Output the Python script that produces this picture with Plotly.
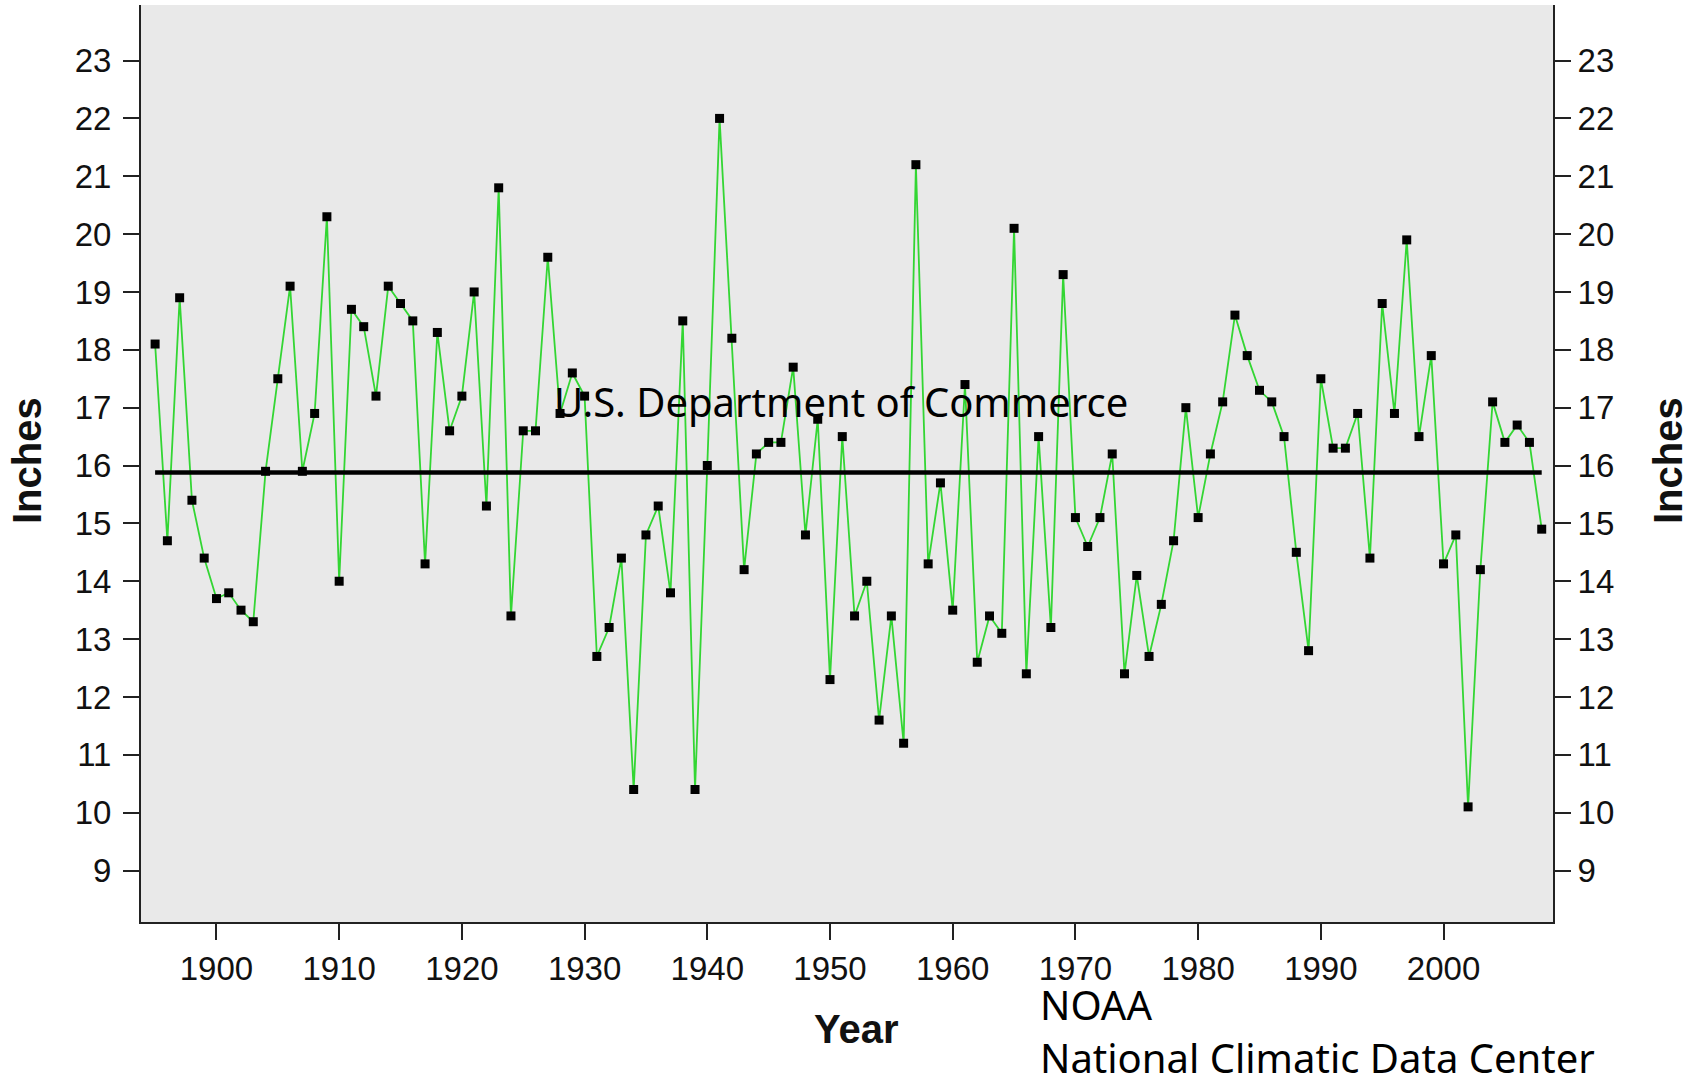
import plotly.graph_objects as go

years = list(range(1895, 2009))
precip = [
    18.1, 14.7, 18.9, 15.4, 14.4,            # 1895-1899
    13.7, 13.8, 13.5, 13.3, 15.9, 17.5, 19.1, 15.9, 16.9, 20.3,  # 1900s
    14.0, 18.7, 18.4, 17.2, 19.1, 18.8, 18.5, 14.3, 18.3, 16.6,  # 1910s
    17.2, 19.0, 15.3, 20.8, 13.4, 16.6, 16.6, 19.6, 16.9, 17.6,  # 1920s
    17.2, 12.7, 13.2, 14.4, 10.4, 14.8, 15.3, 13.8, 18.5, 10.4,  # 1930s
    16.0, 22.0, 18.2, 14.2, 16.2, 16.4, 16.4, 17.7, 14.8, 16.8,  # 1940s
    12.3, 16.5, 13.4, 14.0, 11.6, 13.4, 11.2, 21.2, 14.3, 15.7,  # 1950s
    13.5, 17.4, 12.6, 13.4, 13.1, 20.1, 12.4, 16.5, 13.2, 19.3,  # 1960s
    15.1, 14.6, 15.1, 16.2, 12.4, 14.1, 12.7, 13.6, 14.7, 17.0,  # 1970s
    15.1, 16.2, 17.1, 18.6, 17.9, 17.3, 17.1, 16.5, 14.5, 12.8,  # 1980s
    17.5, 16.3, 16.3, 16.9, 14.4, 18.8, 16.9, 19.9, 16.5, 17.9,  # 1990s
    14.3, 14.8, 10.1, 14.2, 17.1, 16.4, 16.7, 16.4, 14.9,        # 2000-2008
]
mean_value = 15.88
mean_years = [1895, 2008]

x_ticks = list(range(1900, 2001, 10))
y_ticks = list(range(9, 24))

GREEN = "#33d633"
tick_font = dict(family="Liberation Sans, Arial, sans-serif", size=33, color="#111")

fig = go.Figure()
fig.add_trace(go.Scatter(
    x=years, y=precip, mode="lines+markers",
    line=dict(color=GREEN, width=1.8),
    marker=dict(symbol="square", size=9, color="black"),
    showlegend=False, hoverinfo="x+y",
))
fig.add_trace(go.Scatter(
    x=mean_years, y=[mean_value, mean_value], mode="lines",
    line=dict(color="black", width=4.5),
    showlegend=False, hoverinfo="skip",
))
# invisible trace on right axis so it renders
fig.add_trace(go.Scatter(
    x=mean_years, y=[mean_value, mean_value], mode="lines", yaxis="y2",
    line=dict(color="rgba(0,0,0,0)", width=0),
    showlegend=False, hoverinfo="skip",
))

L, R, T, B = 141, 145, 5, 165
W, H = 1698, 1087
yr = [8.11, 23.96]
axis_common = dict(
    ticks="outside", ticklen=16, tickwidth=2, tickcolor="#222",
    showline=True, linecolor="#222", linewidth=2,
    showgrid=False, zeroline=False, tickfont=tick_font,
)
fig.update_layout(
    width=W, height=H,
    margin=dict(l=L, r=R, t=T, b=B),
    paper_bgcolor="white",
    plot_bgcolor="#e9e9e9",
    xaxis=dict(
        range=[1893.85, 2008.92], tickvals=x_ticks, ticktext=[str(v) for v in x_ticks],
        ticklabelstandoff=0, **axis_common,
    ),
    yaxis=dict(
        range=yr, tickvals=y_ticks, ticktext=[str(v) for v in y_ticks],
        ticklabelstandoff=5, **axis_common,
    ),
    yaxis2=dict(
        range=yr, tickvals=y_ticks, ticktext=[str(v) for v in y_ticks],
        overlaying="y", side="right",
        ticklabelstandoff=0, **axis_common,
    ),
)

title_font = dict(family="Liberation Sans, Arial, sans-serif", size=40, color="#111")
note_font = dict(family="Noto Sans, Open Sans, sans-serif", size=40, color="black")
annos = [
    dict(text="<b>Inches</b>", x=27, y=461, textangle=-90, font=title_font),
    dict(text="<b>Inches</b>", x=1668, y=461, textangle=-90, font=title_font),
    dict(text="<b>Year</b>", x=856, y=1029, font=title_font),
    dict(text="U.S. Department of Commerce", x=841, y=401, font=note_font),
    dict(text="NOAA", x=1038, y=1004, font=note_font, xanchor="left"),
    dict(text="National Climatic Data Center", x=1038, y=1057, font=note_font, xanchor="left"),
]
for a in annos:
    fig.add_annotation(
        text=a["text"], xref="paper", yref="paper",
        x=(a["x"] - L) / (W - L - R),
        y=1 - (a["y"] - T) / (H - T - B),
        xanchor=a.get("xanchor", "center"), yanchor="middle",
        textangle=a.get("textangle", 0), showarrow=False, font=a["font"],
    )

fig.write_html(
    "out.html",
    config={"displayModeBar": False},
    post_script="document.body.style.margin='0';document.body.style.padding='0';document.body.style.overflow='hidden';",
)
